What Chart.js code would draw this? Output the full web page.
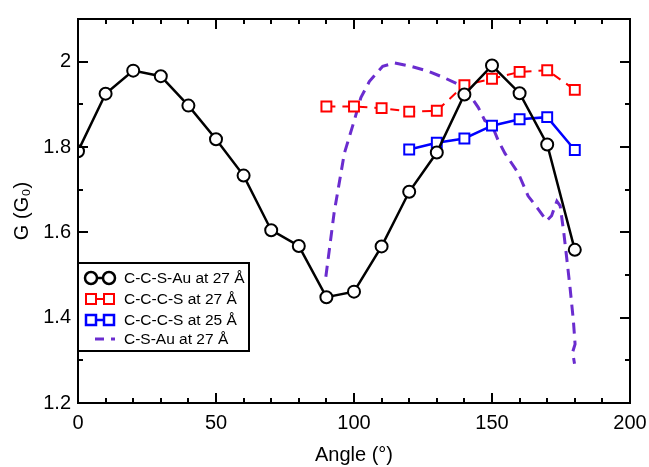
<!DOCTYPE html>
<html>
<head>
<meta charset="utf-8">
<script src="https://cdn.jsdelivr.net/npm/chart.js@4/dist/chart.umd.min.js"></script>
<style>
  body { margin: 0; background: #fff; }
  canvas { display: block; }
</style>
</head>
<body>
<canvas id="gChart" width="649" height="467"></canvas>
<script>
// data
const angles = [0, 10, 20, 30, 40, 50, 60, 70, 80, 90, 100, 110, 120, 130, 140, 150, 160, 170, 180];
const ccsAu27 = [1.790, 1.925, 1.979, 1.966, 1.897, 1.818, 1.733, 1.605, 1.568, 1.448, 1.461, 1.567, 1.695, 1.787, 1.923, 1.991, 1.926, 1.806, 1.559];

const cccsAngles = [90, 100, 110, 120, 130, 140, 150, 160, 170, 180];
const cccs27 = [1.895, 1.895, 1.891, 1.883, 1.885, 1.945, 1.960, 1.976, 1.980, 1.934];

const cccs25Angles = [120, 130, 140, 150, 160, 170, 180];
const cccs25 = [1.794, 1.810, 1.820, 1.850, 1.865, 1.870, 1.793];

const csAuX = [89.8, 92.8, 96.5, 100.1, 102.5, 105.6, 110.4, 114.7, 120.7, 126.8, 132.8, 137.7, 141.3, 145.0, 147.4, 149.8, 152.2, 154.7, 159.5, 163.1, 166.8, 169.8, 171.6, 173.5, 174.7, 176.0, 177.1, 178.3, 179.5, 180.1, 179.2, 179.9];
const csAuY = [1.496, 1.646, 1.785, 1.862, 1.916, 1.954, 1.989, 1.997, 1.989, 1.978, 1.962, 1.947, 1.928, 1.893, 1.862, 1.854, 1.816, 1.785, 1.739, 1.685, 1.654, 1.627, 1.639, 1.673, 1.662, 1.600, 1.538, 1.469, 1.392, 1.338, 1.319, 1.292];

const xMin = 0, xMax = 200;
const yMin = 1.2, yMax = 2.1;

const FONT = "'Liberation Sans', Arial, Helvetica, sans-serif";

function pts(xs, ys) {
    return xs.map((x, i) => ({ x: x, y: ys[i] }));
}

// ticks inside the box, on all four sides, plus the frame
const frameTicks = {
    id: 'frameTicks',
    afterDraw(chart) {
        const c = chart.ctx;
        const a = chart.chartArea;
        const sx = chart.scales.x, sy = chart.scales.y;
        c.save();
        c.strokeStyle = '#000';
        c.lineWidth = 2;
        c.beginPath();
        sx.ticks.forEach(t => {
            const px = Math.round(sx.getPixelForValue(t.value));
            const len = t.value % 50 === 0 ? 10 : 5;
            c.moveTo(px, a.bottom); c.lineTo(px, a.bottom - len);
            c.moveTo(px, a.top); c.lineTo(px, a.top + len);
        });
        sy.ticks.forEach(t => {
            const py = Math.round(sy.getPixelForValue(t.value));
            const len = Math.round(t.value * 10) % 2 === 0 ? 10 : 5;
            c.moveTo(a.left, py); c.lineTo(a.left + len, py);
            c.moveTo(a.right, py); c.lineTo(a.right - len, py);
        });
        c.stroke();
        c.strokeRect(a.left, a.top, a.right - a.left, a.bottom - a.top);
        c.restore();
    }
};

// legend box in lower left of the plot
const boxLegend = {
    id: 'boxLegend',
    afterDraw(chart) {
        const c = chart.ctx;
        const a = chart.chartArea;
        const left = a.left, top = 263, w = 171, h = 88;
        c.save();
        c.fillStyle = '#fff';
        c.fillRect(left, top, w, h);
        c.strokeStyle = '#000';
        c.lineWidth = 2;
        c.strokeRect(left, top, w, h);
        const rows = [278, 299, 320, 339];
        chart.data.datasets.forEach((ds, i) => {
            const y = rows[i];
            const x1 = left + 13, x2 = left + 31;
            c.strokeStyle = ds.borderColor;
            c.lineWidth = ds.borderWidth;
            if (ds.pointRadius > 0) {
                c.setLineDash([]);
                c.beginPath(); c.moveTo(x1, y); c.lineTo(x2, y); c.stroke();
                [x1, x2].forEach(px => {
                    c.beginPath();
                    if (ds.pointStyle === 'rect') {
                        c.rect(px - 5, y - 5, 10, 10);
                    } else {
                        c.arc(px, y, 6, 0, Math.PI * 2);
                    }
                    c.fillStyle = '#fff';
                    c.fill();
                    c.stroke();
                });
            } else {
                // dash then a short dot, like the original key
                c.setLineDash([9, 7]);
                c.beginPath(); c.moveTo(left + 17, y); c.lineTo(left + 37, y); c.stroke();
                c.setLineDash([]);
            }
            c.fillStyle = '#000';
            c.font = '15.5px ' + FONT;
            c.textBaseline = 'middle';
            c.textAlign = 'left';
            c.fillText(ds.label, left + 46, y + 1);
        });
        c.restore();
    }
};

const ctx = document.getElementById('gChart').getContext('2d');
new Chart(ctx, {
    type: 'line',
    data: {
        datasets: [
            {
                label: 'C-C-S-Au at 27 Å',
                data: pts(angles, ccsAu27),
                borderColor: '#000000',
                borderWidth: 2.5,
                pointStyle: 'circle',
                pointRadius: 6,
                pointBorderWidth: 2,
                pointBackgroundColor: '#ffffff',
                pointBorderColor: '#000000'
            },
            {
                label: 'C-C-C-S at 27 Å',
                data: pts(cccsAngles, cccs27),
                borderColor: '#ff0000',
                borderWidth: 2,
                borderDash: [9, 7],
                pointStyle: 'rect',
                pointRadius: 7,
                pointBorderWidth: 2,
                pointBackgroundColor: '#ffffff',
                pointBorderColor: '#ff0000'
            },
            {
                label: 'C-C-C-S at 25 Å',
                data: pts(cccs25Angles, cccs25),
                borderColor: '#0000ff',
                borderWidth: 2.5,
                pointStyle: 'rect',
                pointRadius: 7,
                pointBorderWidth: 2,
                pointBackgroundColor: '#ffffff',
                pointBorderColor: '#0000ff'
            },
            {
                label: 'C-S-Au at 27 Å',
                data: pts(csAuX, csAuY),
                borderColor: '#6a2ccf',
                borderWidth: 3,
                borderDash: [11, 7],
                pointRadius: 0
            }
        ]
    },
    options: {
        responsive: false,
        animation: false,
        layout: { padding: { top: 14, right: 19, left: 0, bottom: 0 } },
        plugins: {
            legend: { display: false },
            tooltip: { enabled: false }
        },
        scales: {
            x: {
                type: 'linear',
                min: xMin,
                max: xMax,
                afterFit: s => { s.height = 64; s.paddingLeft = 0; s.paddingRight = 0; },
                grid: { display: false, drawTicks: false },
                border: { display: false },
                ticks: {
                    stepSize: 10,
                    padding: 8,
                    maxRotation: 0,
                    autoSkip: false,
                    color: '#000',
                    font: { family: FONT, size: 20 },
                    callback: v => (v % 50 === 0 ? String(v) : '')
                },
                title: {
                    display: true,
                    text: 'Angle (°)',
                    color: '#000',
                    font: { family: FONT, size: 20 },
                    padding: { top: 0, bottom: 0 }
                }
            },
            y: {
                min: yMin,
                max: yMax,
                afterFit: s => { s.width = 78; },
                grid: { display: false, drawTicks: false },
                border: { display: false },
                ticks: {
                    stepSize: 0.1,
                    padding: 7,
                    autoSkip: false,
                    color: '#000',
                    font: { family: FONT, size: 20 },
                    callback: v => (Math.round(v * 10) % 2 === 0 && v < 2.05 ? String(Number(v.toFixed(1))) : '')
                },
                title: {
                    display: true,
                    text: 'G (G₀)',
                    color: '#000',
                    font: { family: FONT, size: 20 },
                    padding: { top: 10, bottom: 0 }
                }
            }
        }
    },
    plugins: [frameTicks, boxLegend]
});
</script>
</body>
</html>
